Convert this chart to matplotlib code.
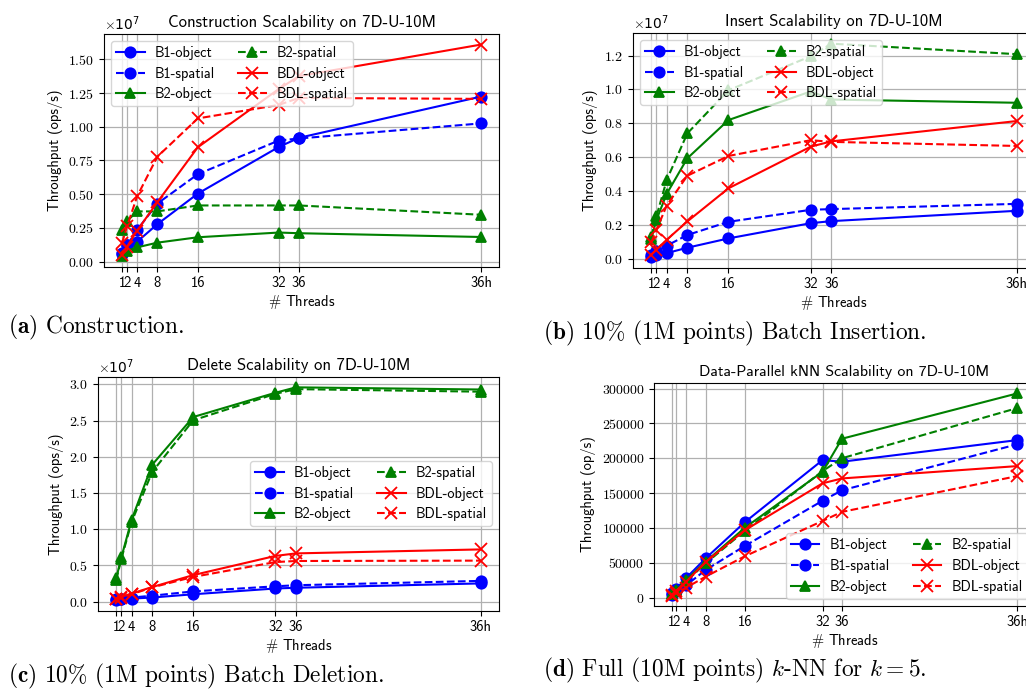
import numpy as np
import matplotlib
matplotlib.use("Agg")
from matplotlib import pyplot as plt

plt.rcParams['mathtext.fontset'] = 'cm'
plt.rcParams['axes.formatter.use_mathtext'] = True
plt.rcParams['axes.unicode_minus'] = False

# thread counts, "36h" is 72 hyper-threads
threads = [1, 2, 4, 8, 16, 32, 36, 72]
tick_labels = ['1', '2', '4', '8', '16', '32', '36', '36h']

series_names = ['B1-object', 'B1-spatial', 'B2-object', 'B2-spatial', 'BDL-object', 'BDL-spatial']

# (a) construction, x1e7 ops/s
cons_b1_obj = [0.055, 0.12, 0.147, 0.277, 0.504, 0.85, 0.918, 1.224]
cons_b1_spa = [0.06, 0.12, 0.234, 0.43, 0.648, 0.898, 0.913, 1.025]
cons_b2_obj = [0.04, 0.08, 0.105, 0.14, 0.18, 0.215, 0.21, 0.182]
cons_b2_spa = [0.234, 0.30, 0.372, 0.372, 0.416, 0.416, 0.416, 0.347]
cons_bdl_obj = [0.05, 0.11, 0.23, 0.44, 0.848, 1.28, 1.376, 1.61]
cons_bdl_spa = [0.135, 0.26, 0.484, 0.778, 1.062, 1.162, 1.214, 1.207]

# (b) insert, x1e7 ops/s
ins_b1_obj = [0.01, 0.024, 0.033, 0.065, 0.12, 0.21, 0.222, 0.283]
ins_b1_spa = [0.024, 0.043, 0.077, 0.14, 0.218, 0.289, 0.293, 0.324]
ins_b2_obj = [0.116, 0.23, 0.383, 0.593, 0.819, 0.988, 0.94, 0.921]
ins_b2_spa = [0.13, 0.25, 0.465, 0.74, 0.995, 1.196, 1.27, 1.208]
ins_bdl_obj = [0.024, 0.053, 0.112, 0.22, 0.416, 0.662, 0.693, 0.813]
ins_bdl_spa = [0.096, 0.17, 0.314, 0.49, 0.607, 0.70, 0.69, 0.666]

# (c) delete, x1e7 ops/s
del_b1_obj = [0.02, 0.03, 0.04, 0.055, 0.10, 0.18, 0.19, 0.25]
del_b1_spa = [0.03, 0.04, 0.055, 0.08, 0.14, 0.21, 0.225, 0.285]
del_b2_obj = [0.32, 0.61, 1.13, 1.89, 2.55, 2.885, 2.96, 2.93]
del_b2_spa = [0.30, 0.59, 1.10, 1.79, 2.505, 2.87, 2.935, 2.90]
del_bdl_obj = [0.04, 0.065, 0.11, 0.20, 0.365, 0.63, 0.665, 0.72]
del_bdl_spa = [0.03, 0.055, 0.10, 0.195, 0.34, 0.545, 0.56, 0.565]

# (d) kNN, op/s
knn_b1_obj = [6200, 12900, 28200, 56400, 108000, 197300, 195000, 226000]
knn_b1_spa = [4300, 9100, 17700, 39700, 74000, 139000, 154000, 220000]
knn_b2_obj = [5300, 11000, 25300, 51600, 100000, 180600, 228000, 293000]
knn_b2_spa = [4800, 10000, 23400, 49200, 95600, 181500, 200000, 272000]
knn_bdl_obj = [4300, 9500, 22900, 51100, 96500, 164000, 171000, 188700]
knn_bdl_spa = [2900, 7200, 14300, 30100, 59200, 110000, 123000, 174400]

styles = [('b', '-', 'o'), ('b', '--', 'o'), ('g', '-', '^'),
          ('g', '--', '^'), ('r', '-', 'x'), ('r', '--', 'x')]

fig = plt.figure(figsize=(10.26, 6.89), dpi=100)
W, H = 1026.0, 689.0


def make_ax(l, r, t, b):
    return fig.add_axes([l / W, 1 - b / H, (r - l) / W, (b - t) / H])


def draw(ax, data, title, ylabel, scale, legend_loc, title_size, legend_anchor=None):
    for (c, ls, m), name, y in zip(styles, series_names, data):
        ax.plot(threads, np.array(y) * scale, color=c, linestyle=ls, marker=m,
                markersize=7.5 if m != 'x' else 8, markeredgewidth=1.3,
                linewidth=1.5, label=name)
    ax.set_xticks(threads)
    ax.set_xticklabels(tick_labels, family='cmss10', fontsize=10.5)
    ax.tick_params(axis='y', labelsize=10, labelfontfamily='cmr10')
    ax.grid(True, color='#b0b0b0', linewidth=0.9)
    ax.set_title(title, family='cmss10', fontsize=title_size, pad=5)
    ax.set_ylabel(ylabel, family='cmss10', fontsize=10.5)
    ax.set_xlabel(r'$\#$ Threads', family='cmss10', fontsize=10.5, labelpad=2)
    kw = dict(ncol=2, prop={'family': 'cmss10', 'size': 10.3},
              handlelength=2.0, handletextpad=0.7, columnspacing=1.6,
              labelspacing=0.46, borderpad=0.35)
    if legend_anchor is not None:
        ax.legend(loc=legend_loc, bbox_to_anchor=legend_anchor, **kw)
    else:
        ax.legend(loc=legend_loc, **kw)
    ax.yaxis.get_offset_text().set_fontsize(10)


ax_a = make_ax(104, 499, 34, 266.7)
draw(ax_a, [cons_b1_obj, cons_b1_spa, cons_b2_obj, cons_b2_spa, cons_bdl_obj, cons_bdl_spa],
     'Construction Scalability on 7D-U-10M', 'Throughput (ops/s)', 1e7, 'upper left', 12)
ax_a.set_yticks([0, 0.25e7, 0.5e7, 0.75e7, 1.0e7, 1.25e7, 1.5e7])

ax_b = make_ax(633, 1035, 33, 267.7)
draw(ax_b, [ins_b1_obj, ins_b1_spa, ins_b2_obj, ins_b2_spa, ins_bdl_obj, ins_bdl_spa],
     'Insert Scalability on 7D-U-10M', 'Throughput (ops/s)', 1e7, 'upper left', 12)

ax_c = make_ax(98, 499, 376.7, 610.7)
draw(ax_c, [del_b1_obj, del_b1_spa, del_b2_obj, del_b2_spa, del_bdl_obj, del_bdl_spa],
     'Delete Scalability on 7D-U-10M', 'Throughput (ops/s)', 1e7, 'center right', 12,
     (1.0, 0.5))

ax_d = make_ax(654.3, 1034.6, 383.3, 605.7)
draw(ax_d, [knn_b1_obj, knn_b1_spa, knn_b2_obj, knn_b2_spa, knn_bdl_obj, knn_bdl_spa],
     'Data-Parallel kNN Scalability on 7D-U-10M', 'Throughput (op/s)', 1, 'lower right', 11.4)
ax_d.ticklabel_format(axis='y', style='plain', useOffset=False)

cap = dict(fontsize=16.8, family='cmr10', va='center', ha='left')
fig.text(8 / W, 1 - 327 / H, r'$\mathbf{(a)}$ Construction.', **cap)
fig.text(543 / W, 1 - 333 / H, r'$\mathbf{(b)}$ 10% (1M points) Batch Insertion.', **cap)
fig.text(8 / W, 1 - 676 / H, r'$\mathbf{(c)}$ 10% (1M points) Batch Deletion.', **cap)
fig.text(543 / W, 1 - 670 / H, r'$\mathbf{(d)}$ Full (10M points) $k$-NN for $k=5$.', **cap)

fig.savefig('out.png', dpi=100)
